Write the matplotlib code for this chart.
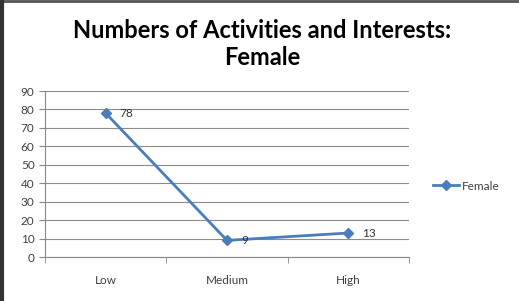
import matplotlib
matplotlib.use("Agg")
import matplotlib.pyplot as plt
from matplotlib.lines import Line2D

categories = ["Low", "Medium", "High"]
female = [78, 9, 13]
yticks = list(range(0, 100, 10))

plt.rcParams['font.family'] = ['Lato', 'DejaVu Sans']

fig = plt.figure(figsize=(5.19, 3.01), dpi=100)
ax = fig.add_axes([45/519, 1-257/301, (409-45)/519, (257-91)/301])

x = list(range(len(categories)))
line_color = "#4A7EBB"
ax.plot(x, female, color=line_color, lw=2, marker="D", ms=5,
        markerfacecolor=line_color, markeredgecolor=line_color, label="Female", zorder=3)
for xi, v in zip(x, female):
    ax.annotate(str(v), (xi, v), xytext=(10, 0), textcoords="offset points",
                ha="left", va="center", fontsize=8.5, color="#333333")

ax.set_xlim(-0.5, len(categories) - 0.5)
ax.set_ylim(0, 90)
ax.set_yticks(yticks)
ax.set_xticks(x)
ax.set_xticklabels(categories)
ax.set_xticks([-0.5, 0.5, 1.5, 2.5], minor=True)
ax.tick_params(axis="x", which="major", length=0, pad=13, labelsize=8.5, colors="#404040")
ax.tick_params(axis="x", which="minor", length=4, color="#888888")
ax.tick_params(axis="y", length=4, color="#888888", labelsize=8.5, labelcolor="#404040")
ax.grid(axis="y", color="#8c8c8c", lw=0.8)
ax.set_axisbelow(True)
for s in ["top", "right"]:
    ax.spines[s].set_visible(False)
ax.spines["left"].set_color("#888888")
ax.spines["bottom"].set_color("#888888")

fig.text(262/519, 1-44/301, "Numbers of Activities and Interests:\nFemale",
         ha="center", va="center", fontsize=17, fontweight="bold", linespacing=1.25)

handle = Line2D([], [], color=line_color, lw=2, marker="D", ms=5)
fig.legend([handle], ["Female"], loc="center left", bbox_to_anchor=(422/519, 1-186/301),
           frameon=False, fontsize=8.5, handlelength=2.2, handletextpad=0.3, labelcolor="#404040")

# figure border
fig.add_artist(Line2D([0, 1], [0.997, 0.997], transform=fig.transFigure, color="#555555", lw=2))
fig.add_artist(Line2D([0.003, 0.003], [0, 1], transform=fig.transFigure, color="#333333", lw=3))

fig.savefig("out.png", dpi=100)
